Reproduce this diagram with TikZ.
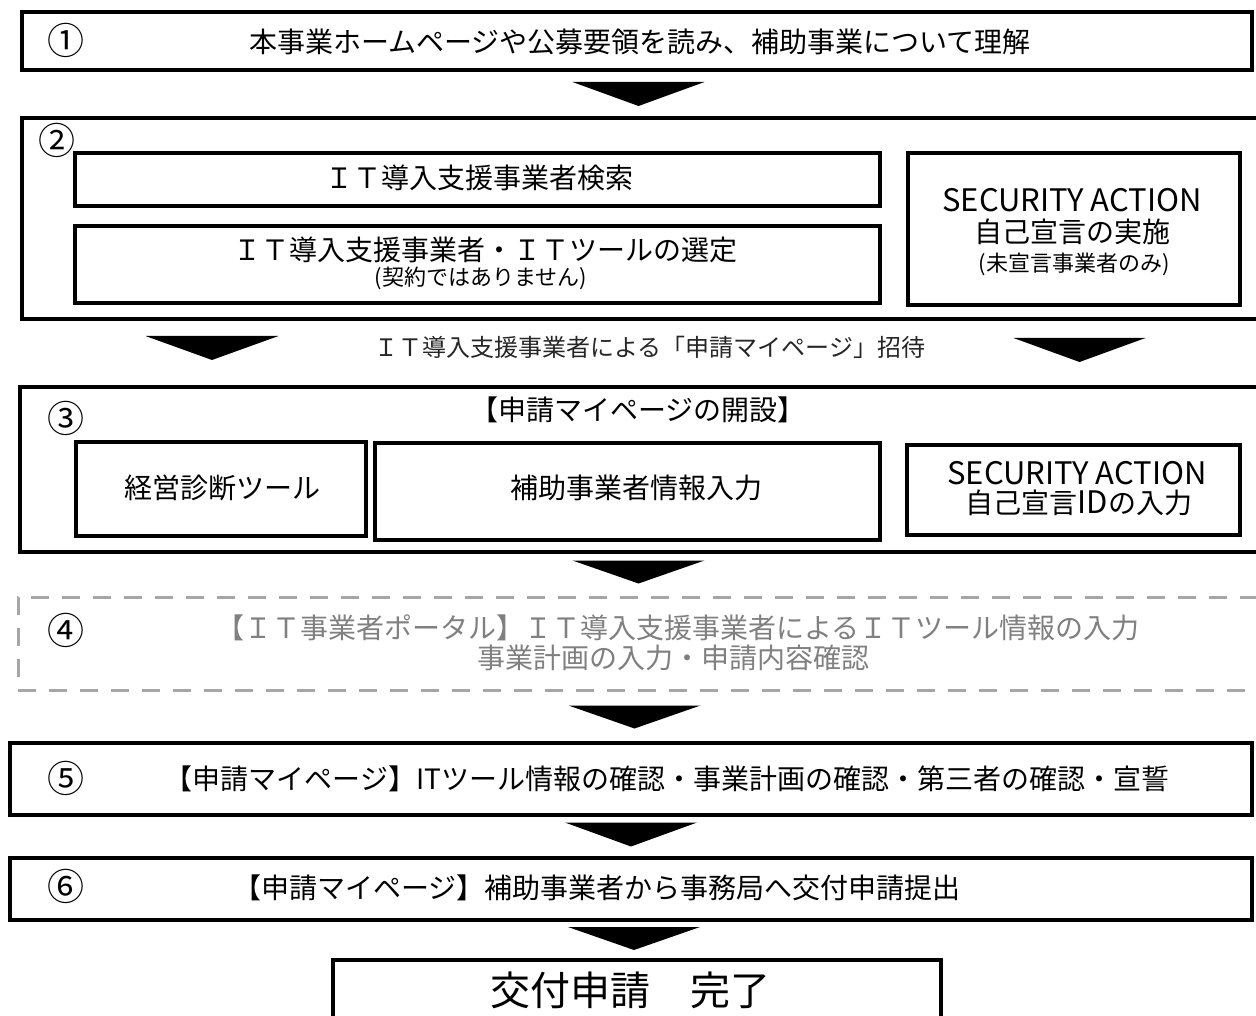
\documentclass[tikz,border=0pt]{standalone}
\usepackage{fontspec}
\setmainfont{Noto Sans CJK JP}
\usetikzlibrary{calc}
\begin{document}
\begin{tikzpicture}[x=1pt,y=-1pt,
  frame/.style={draw=black, line width=3.5pt, inner sep=0pt, outer sep=0pt},
  dframe/.style={draw=black!35, line width=3pt, dash pattern=on 18pt off 13pt, inner sep=0pt, outer sep=0pt},
  txt/.style={inner sep=0pt, font=\fontsize{28}{32}\selectfont},
  ltxt/.style={inner sep=0pt, font=\fontsize{31}{34}\selectfont},
  stxt/.style={inner sep=0pt, font=\fontsize{22}{24}\selectfont},
  num/.style={inner sep=0pt, font=\fontsize{37}{40}\selectfont},
  blockarrow/.style={fill=black, draw=none}]
\useasboundingbox (0,0) rectangle (1256,1016);
\fill[white] (0,0) rectangle (1256,1016);

% step 1
\node[frame, minimum width=1230pt, minimum height=58pt] (b1) at (637,41) {};
\node[num] (n1) at (66,40) {①};
\node[txt] (t1) at (640,42) {本事業ホームページや公募要領を読み、補助事業について理解};

% step 2
\node[frame, minimum width=1236pt, minimum height=201pt] (b2) at (640,218.5) {};
\node[num] (n2) at (57,140) {②};
\node[frame, minimum width=805pt, minimum height=53pt] (b2a) at (477.5,179.5) {};
\node[txt] (t2a) at (479,178) {ＩＴ導入支援事業者検索};
\node[frame, minimum width=805pt, minimum height=77pt] (b2b) at (477.5,264.5) {};
\node[txt] (t2b) at (485,250) {ＩＴ導入支援事業者・ＩＴツールの選定};
\node[stxt] (t2b2) at (481,278) {(契約ではありません)};
\node[frame, minimum width=332pt, minimum height=152pt] (b2c) at (1074,229) {};
\node[ltxt] (t2c1) at (1072,200) {SECURITY ACTION};
\node[txt] (t2c2) at (1072,232) {自己宣言の実施};
\node[stxt, font=\fontsize{22}{24}\selectfont] (t2c3) at (1074,264) {(未宣言事業者のみ)};

% step 3
\node[frame, minimum width=1238pt, minimum height=165pt] (b3) at (639,469.5) {};
\node[num] (n3) at (66,418) {③};
\node[txt] (t3) at (638,410) {【申請マイページの開設】};
\node[frame, minimum width=290pt, minimum height=94pt] (b3a) at (221,489) {};
\node[txt] (t3a) at (222,488) {経営診断ツール};
\node[frame, minimum width=505pt, minimum height=97pt] (b3b) at (627.5,491.5) {};
\node[txt] (t3b) at (636,488) {補助事業者情報入力};
\node[frame, minimum width=333pt, minimum height=90pt] (b3c) at (1073.5,490) {};
\node[ltxt] (t3c1) at (1077,473) {SECURITY ACTION};
\node[txt] (t3c2) at (1079,503) {自己宣言{\fontsize{31}{34}\selectfont ID}の入力};

% invitation
\coordinate (m23) at ($(b2.south)!0.5!(b3.north)$);
\node[inner sep=0pt, font=\fontsize{24}{28}\selectfont, text=black!85] (inv) at (650,347) {ＩＴ導入支援事業者による「申請マイページ」招待};

% step 4
\node[dframe, minimum width=1240pt, minimum height=93pt] (b4) at (638,643.5) {};
\node[num] (n4) at (66,630) {④};
\node[txt, text=black!50] (t4a) at (678,628) {【ＩＴ事業者ポータル】ＩＴ導入支援事業者によるＩＴツール情報の入力};
\node[txt, text=black!50] (t4b) at (673,658) {事業計画の入力・申請内容確認};

% step 5
\node[frame, minimum width=1242pt, minimum height=72pt] (b5) at (631,779) {};
\node[num] (n5) at (66,778) {⑤};
\node[txt] (t5) at (667,779) {【申請マイページ】ITツール情報の確認・事業計画の確認・第三者の確認・宣誓};

% step 6
\node[frame, minimum width=1242pt, minimum height=62pt] (b6) at (631,889) {};
\node[num] (n6) at (66,886) {⑥};
\node[txt] (t6) at (597,888) {【申請マイページ】補助事業者から事務局へ交付申請提出};

% final
\node[frame, minimum width=608pt, minimum height=70pt] (b7) at (637,995) {};
\node[inner sep=0pt, font=\fontsize{40}{44}\selectfont] (t7) at (630,990) {交付申請　完了};

% block arrows
\coordinate (m12) at ($(b1.south)!0.5!(b2.north)$);
\fill[blockarrow] ($(m12)+(-66,-12)$) -- ($(m12)+(66,-12)$) -- ($(m12)+(0,12)$) -- cycle;
\fill[blockarrow] ($(m23)+(-494,-17)$) -- ($(m23)+(-361,-17)$) -- ($(m23)+(-427.5,7)$) -- cycle;
\fill[blockarrow] ($(m23)+(374,-15)$) -- ($(m23)+(506,-15)$) -- ($(m23)+(440,9)$) -- cycle;
\coordinate (m34) at ($(b3.south)!0.5!(b4.north)$);
\fill[blockarrow] ($(m34)+(-66,-14)$) -- ($(m34)+(66,-14)$) -- ($(m34)+(0,9)$) -- cycle;
\coordinate (m45) at ($(b4.south)!0.5!(b5.north)$);
\fill[blockarrow] ($(m45)+(-66,-11)$) -- ($(m45)+(66,-11)$) -- ($(m45)+(0,12)$) -- cycle;
\coordinate (m56) at ($(b5.south)!0.5!(b6.north)$);
\fill[blockarrow] ($(m56)+(-66,-14)$) -- ($(m56)+(66,-14)$) -- ($(m56)+(0,10)$) -- cycle;
\coordinate (m67) at ($(b6.south)!0.5!(b7.north)$);
\fill[blockarrow] ($(m67)+(-66,-13)$) -- ($(m67)+(66,-13)$) -- ($(m67)+(0,10)$) -- cycle;
\end{tikzpicture}
\end{document}
